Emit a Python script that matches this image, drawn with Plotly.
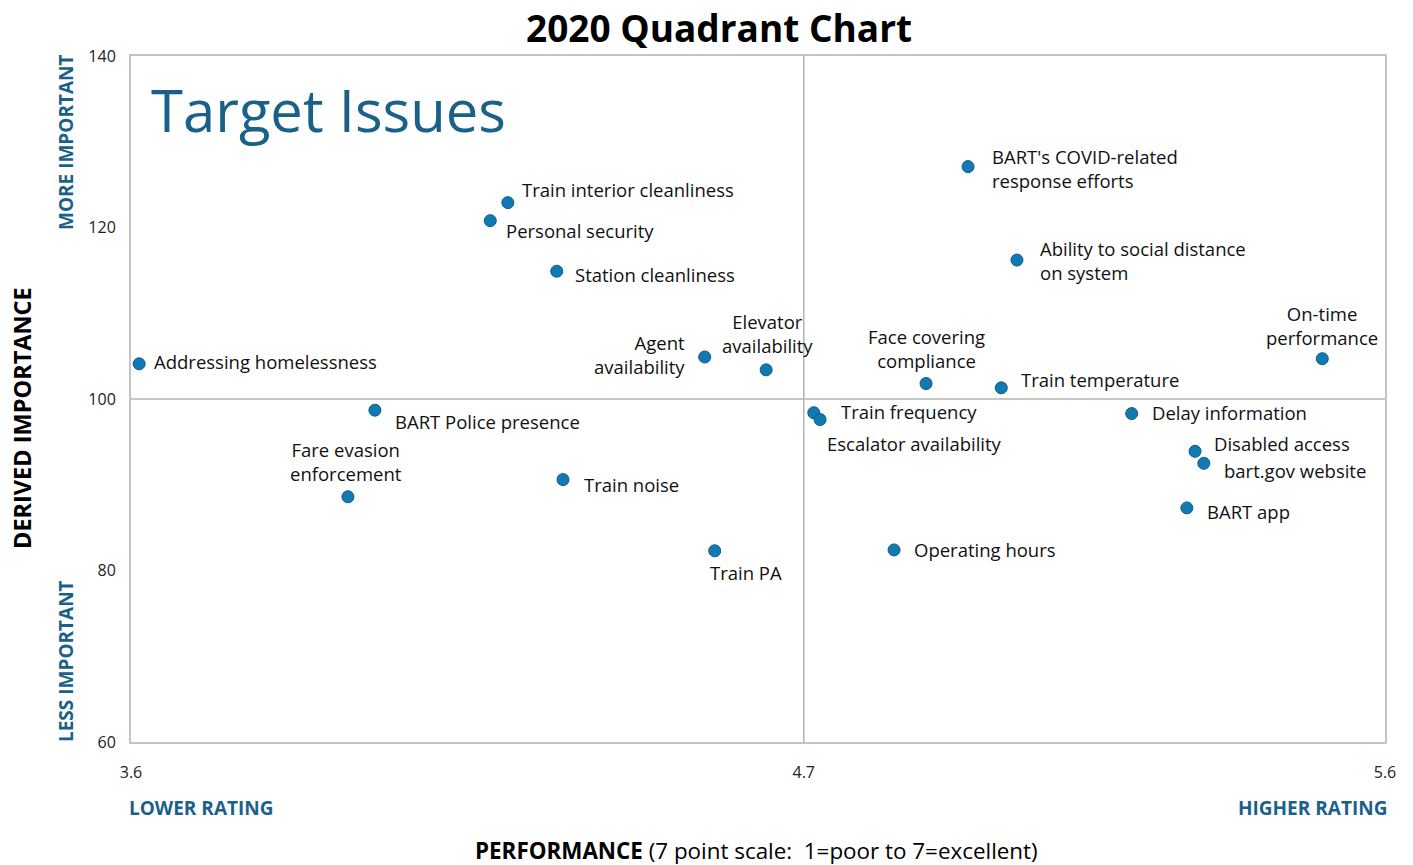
import plotly.graph_objects as go

# ---------------- data ----------------
issues = [
    "Addressing homelessness", "BART Police presence", "Fare evasion<br>enforcement",
    "Personal security", "Train interior cleanliness", "Station cleanliness",
    "Train noise", "Agent<br>availability", "Elevator<br>availability", "Train PA",
    "Train frequency", "Escalator availability", "Operating hours",
    "Face covering<br>compliance", "BART's COVID-related<br>response efforts",
    "Ability to social distance<br>on system", "Train temperature",
    "Delay information", "Disabled access", "bart.gov website", "BART app",
    "On-time<br>performance",
]
performance = [
    3.613, 3.989, 3.946,
    4.173, 4.201, 4.279,
    4.289, 4.515, 4.613, 4.531,
    4.689, 4.699, 4.817,
    4.868, 4.935,
    5.013, 4.988,
    5.196, 5.297, 5.311, 5.284,
    5.500,
]
importance = [
    104.1, 98.7, 88.6,
    120.8, 122.9, 114.9,
    90.6, 104.9, 103.4, 82.3,
    98.4, 97.6, 82.4,
    101.8, 127.1,
    116.2, 101.3,
    98.3, 93.9, 92.5, 87.3,
    104.7,
]
x_tickvals = [3.6, 4.673, 5.6]
x_ticktext = ["3.6", "4.7", "5.6"]
y_tickvals = [60, 80, 100, 120, 140]
x_mid = 4.673
y_mid = 100

# ---------------- label placement (style) ----------------
# (xanchor, xshift, yshift, align)
label_pos = {
    "Addressing homelessness": ("left", 13, 2, "left"),
    "BART Police presence": ("left", 18, -11, "left"),
    "Fare evasion<br>enforcement": ("center", -2, 35, "center"),
    "Personal security": ("left", 14, -10, "left"),
    "Train interior cleanliness": ("left", 12, 13, "left"),
    "Station cleanliness": ("left", 16, -3, "left"),
    "Train noise": ("left", 19, -5, "left"),
    "Agent<br>availability": ("right", -18, 2, "right"),
    "Elevator<br>availability": ("center", 1, 36, "center"),
    "Train PA": ("left", -7, -22, "left"),
    "Train frequency": ("left", 25, 1, "left"),
    "Escalator availability": ("left", 5, -24, "left"),
    "Operating hours": ("left", 18, 0, "left"),
    "Face covering<br>compliance": ("center", 0, 35, "center"),
    "BART's COVID-related<br>response efforts": ("left", 22, -2, "left"),
    "Ability to social distance<br>on system": ("left", 21, 0, "left"),
    "Train temperature": ("left", 18, 8, "left"),
    "Delay information": ("left", 18, 1, "left"),
    "Disabled access": ("left", 17, 8, "left"),
    "bart.gov website": ("left", 18, -7, "left"),
    "BART app": ("left", 18, -4, "left"),
    "On-time<br>performance": ("center", 0, 33, "center"),
}

FONT = "Open Sans"
BLUE = "#1a6189"

fig = go.Figure()
fig.add_trace(go.Scatter(
    x=performance, y=importance, mode="markers",
    marker=dict(size=12, color="#127ab3", line=dict(color="#0b5a87", width=1)),
    hoverinfo="text", text=issues, showlegend=False,
))

annotations = []
for name, xv, yv in zip(issues, performance, importance):
    xa, xs, ys, al = label_pos[name]
    annotations.append(dict(
        x=xv, y=yv, xref="x", yref="y", text=name, showarrow=False,
        xanchor=xa, yanchor="middle", xshift=xs, yshift=ys, align=al,
        font=dict(family=FONT, size=18.5, color="#111111"),
    ))

annotations += [
    dict(text="<b>2020 Quadrant Chart</b>", xref="paper", yref="paper", x=0.469, y=1.0,
         yshift=29, xanchor="center", yanchor="middle", showarrow=False,
         font=dict(family=FONT, size=37, color="#000000")),
    dict(text="Target Issues", xref="paper", yref="paper", x=0.0, xshift=18, y=1.0, yshift=-53,
         xanchor="left", yanchor="middle", showarrow=False,
         font=dict(family=FONT, size=58, color=BLUE)),
    dict(text="<b>DERIVED IMPORTANCE</b>", xref="paper", yref="paper", x=0.0, xshift=-109,
         y=0.5, yshift=-19, xanchor="center", yanchor="middle", textangle=-90, showarrow=False,
         font=dict(family=FONT, size=23.5, color="#000000")),
    dict(text="<b>MORE IMPORTANT</b>", xref="paper", yref="paper", x=0.0, xshift=-65,
         y=1.0, yshift=4, xanchor="center", yanchor="top", textangle=-90, showarrow=False,
         font=dict(family=FONT, size=19, color=BLUE)),
    dict(text="<b>LESS IMPORTANT</b>", xref="paper", yref="paper", x=0.0, xshift=-65,
         y=0.0, yshift=-2, xanchor="center", yanchor="bottom", textangle=-90, showarrow=False,
         font=dict(family=FONT, size=19, color=BLUE)),
    dict(text="<b>LOWER RATING</b>", xref="paper", yref="paper", x=0.0, xshift=-4, y=0.0,
         yshift=-66, xanchor="left", yanchor="middle", showarrow=False,
         font=dict(family=FONT, size=19, color=BLUE)),
    dict(text="<b>HIGHER RATING</b>", xref="paper", yref="paper", x=1.0, xshift=4, y=0.0,
         yshift=-66, xanchor="right", yanchor="middle", showarrow=False,
         font=dict(family=FONT, size=19, color=BLUE)),
    dict(text="<b>PERFORMANCE</b> (7 point scale:  1=poor to 7=excellent)", xref="paper",
         yref="paper", x=0.4985, y=0.0, yshift=-108, xanchor="center", yanchor="middle",
         showarrow=False, font=dict(family=FONT, size=22.4, color="#000000")),
]

shapes = [
    dict(type="line", xref="x", yref="paper", x0=x_mid, x1=x_mid, y0=0, y1=1,
         line=dict(color="#b4b4b4", width=1.5), layer="below"),
    dict(type="line", xref="paper", yref="y", x0=0, x1=1, y0=y_mid, y1=y_mid,
         line=dict(color="#b4b4b4", width=1.5), layer="below"),
]

fig.update_layout(
    width=1413, height=865,
    margin=dict(l=131, r=28, t=56, b=123),
    paper_bgcolor="white", plot_bgcolor="white",
    annotations=annotations, shapes=shapes,
    xaxis=dict(range=[3.6, 5.6], tickvals=x_tickvals, ticktext=x_ticktext,
               showgrid=False, zeroline=False, showline=True, mirror=True,
               linecolor="#c4c4c4", linewidth=2, ticks="", ticklabelstandoff=15,
               tickfont=dict(family=FONT, size=16, color="#222222")),
    yaxis=dict(range=[60, 140], tickvals=y_tickvals,
               showgrid=False, zeroline=False, showline=True, mirror=True,
               linecolor="#c4c4c4", linewidth=2, ticks="", ticklabelstandoff=10,
               tickfont=dict(family=FONT, size=16, color="#222222")),
)

fig.write_html(
    "out.html",
    config={"displayModeBar": False},
    post_script="document.body.style.margin='0';document.body.style.overflow='hidden';",
)
